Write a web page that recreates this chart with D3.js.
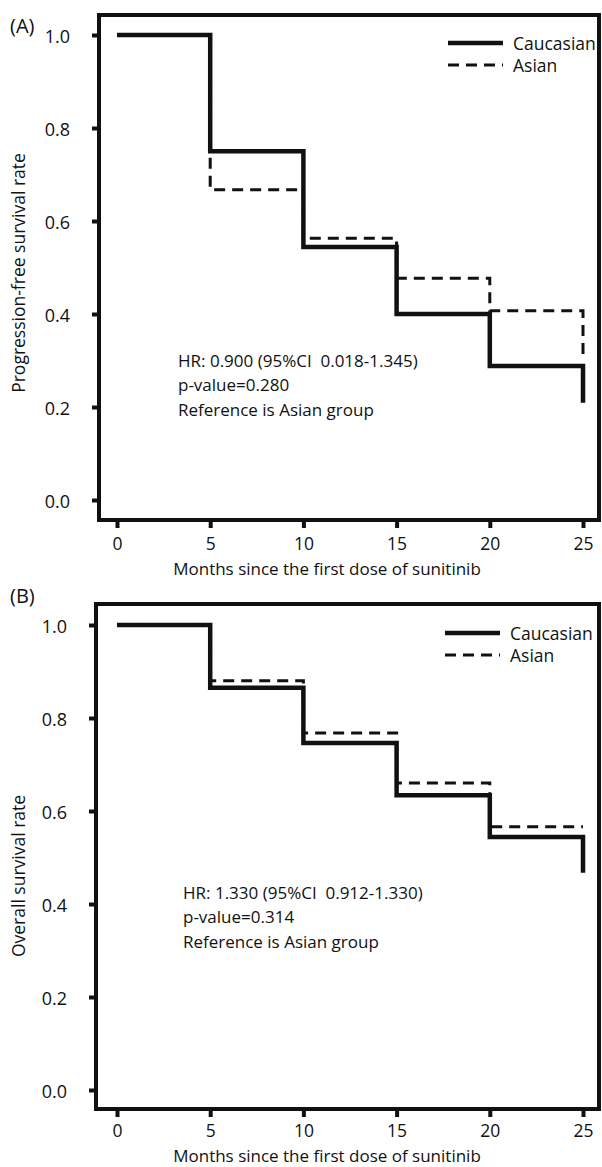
<!DOCTYPE html>
<html>
<head>
<meta charset="utf-8">
<script src="https://cdn.jsdelivr.net/npm/d3@7"></script>
<style>
  body { margin: 0; background: #fff; }
  text { font-family: "Open Sans", sans-serif; fill: #111; }
</style>
</head>
<body>
<svg width="602" height="1167"></svg>
<script>
// values
const months = [0, 5, 10, 15, 20, 25];
const pfsCaucasian = [1.0, 0.75, 0.544, 0.40, 0.288, 0.209];
const pfsAsian = [1.0, 0.667, 0.563, 0.477, 0.407, 0.31];
const osCaucasian = [1.0, 0.865, 0.746, 0.634, 0.544, 0.467];
const osAsian = [1.0, 0.88, 0.768, 0.66, 0.566, 0.566];
const xTicks = [0, 5, 10, 15, 20, 25];
const yTicks = [0, 0.2, 0.4, 0.6, 0.8, 1.0];
const seriesNames = ['Caucasian', 'Asian'];
const panelTags = ['(A)', '(B)'];
const yTitles = ['Progression-free survival rate', 'Overall survival rate'];
const xTitle = 'Months since the first dose of sunitinib';
const notesA = ['HR: 0.900 (95%CI  0.018-1.345)', 'p-value=0.280', 'Reference is Asian group'];
const notesB = ['HR: 1.330 (95%CI  0.912-1.330)', 'p-value=0.314', 'Reference is Asian group'];

const svg = d3.select('svg');

const panels = [
    { tag: panelTags[0], yTitle: yTitles[0], cau: pfsCaucasian, asian: pfsAsian, notes: notesA,
      l: 99, t: 15, r: 599, b: 520, y0: 500, y1: 35, tagY: 25, tickY: 23, xTitleY: 568,
      titleY: 273, legX: 448, legY: 43, noteX: 178, noteY: 360 },
    { tag: panelTags[1], yTitle: yTitles[1], cau: osCaucasian, asian: osAsian, notes: notesB,
      l: 96, t: 604, r: 599, b: 1109, y0: 1090, y1: 625, tagY: 595, tickY: 21, xTitleY: 1155,
      titleY: 876, legX: 445, legY: 633, noteX: 183, noteY: 892 }
];

panels.forEach((p) => {
    const x = d3.scaleLinear().domain([0, 25]).range([117, 583]);
    const y = d3.scaleLinear().domain([0, 1]).range([p.y0, p.y1]);
    const g = svg.append('g');

    // frame
    g.append('rect')
        .attr('x', p.l).attr('y', p.t)
        .attr('width', p.r - p.l).attr('height', p.b - p.t)
        .attr('fill', 'none')
        .attr('stroke', '#111')
        .attr('stroke-width', 4);

    // y axis
    const yAxis = g.append('g')
        .attr('transform', `translate(${p.l},0)`)
        .call(d3.axisLeft(y).tickValues(yTicks).tickFormat(d3.format('.1f')).tickSize(7).tickPadding(22));
    yAxis.select('.domain').remove();
    yAxis.selectAll('line').attr('stroke', '#111').attr('stroke-width', 4);
    yAxis.selectAll('text')
        .attr('dy', null)
        .attr('dominant-baseline', 'central')
        .style('font-size', '18px')
        .attr('fill', '#111');

    // x axis
    const xAxis = g.append('g')
        .attr('transform', `translate(0,${p.b})`)
        .call(d3.axisBottom(x).tickValues(xTicks).tickSize(8));
    xAxis.select('.domain').remove();
    xAxis.selectAll('line').attr('stroke', '#111').attr('stroke-width', 4);
    xAxis.selectAll('text')
        .attr('dy', null)
        .attr('y', p.tickY)
        .attr('dominant-baseline', 'central')
        .style('font-size', '17.5px')
        .attr('fill', '#111');

    // titles
    g.append('text')
        .attr('x', 327).attr('y', p.xTitleY)
        .attr('text-anchor', 'middle')
        .attr('dominant-baseline', 'central')
        .style('font-size', '17px')
        .text(xTitle);
    g.append('text')
        .attr('transform', `translate(18,${p.titleY}) rotate(-90)`)
        .attr('text-anchor', 'middle')
        .attr('dominant-baseline', 'central')
        .style('font-size', '17.5px')
        .text(p.yTitle);
    g.append('text')
        .attr('x', 10).attr('y', p.tagY)
        .attr('dominant-baseline', 'central')
        .style('font-size', '20px')
        .text(p.tag);

    // survival curves
    const line = d3.line()
        .x((d, i) => x(months[i]))
        .y((d) => y(d))
        .curve(d3.curveStepAfter);
    g.append('path')
        .datum(p.cau)
        .attr('d', line)
        .attr('fill', 'none')
        .attr('stroke', '#111')
        .attr('stroke-width', 4.5);
    g.append('path')
        .datum(p.asian)
        .attr('d', line)
        .attr('fill', 'none')
        .attr('stroke', '#111')
        .attr('stroke-width', 3)
        .attr('stroke-dasharray', '11,7');

    // legend
    seriesNames.forEach((name, i) => {
        const ly = p.legY + i * 22;
        g.append('line')
            .attr('x1', p.legX).attr('x2', p.legX + 55)
            .attr('y1', ly).attr('y2', ly)
            .attr('stroke', '#111')
            .attr('stroke-width', i === 0 ? 4.5 : 3)
            .attr('stroke-dasharray', i === 0 ? null : '11,7');
        g.append('text')
            .attr('x', p.legX + 65).attr('y', ly)
            .attr('dominant-baseline', 'central')
            .style('font-size', '17.5px')
            .text(name);
    });

    // annotation
    p.notes.forEach((t, i) => {
        g.append('text')
            .attr('x', p.noteX).attr('y', p.noteY + i * 24.5)
            .attr('dominant-baseline', 'central')
            .style('font-size', '17px')
            .style('white-space', 'pre')
            .text(t);
    });
});
</script>
</body>
</html>
